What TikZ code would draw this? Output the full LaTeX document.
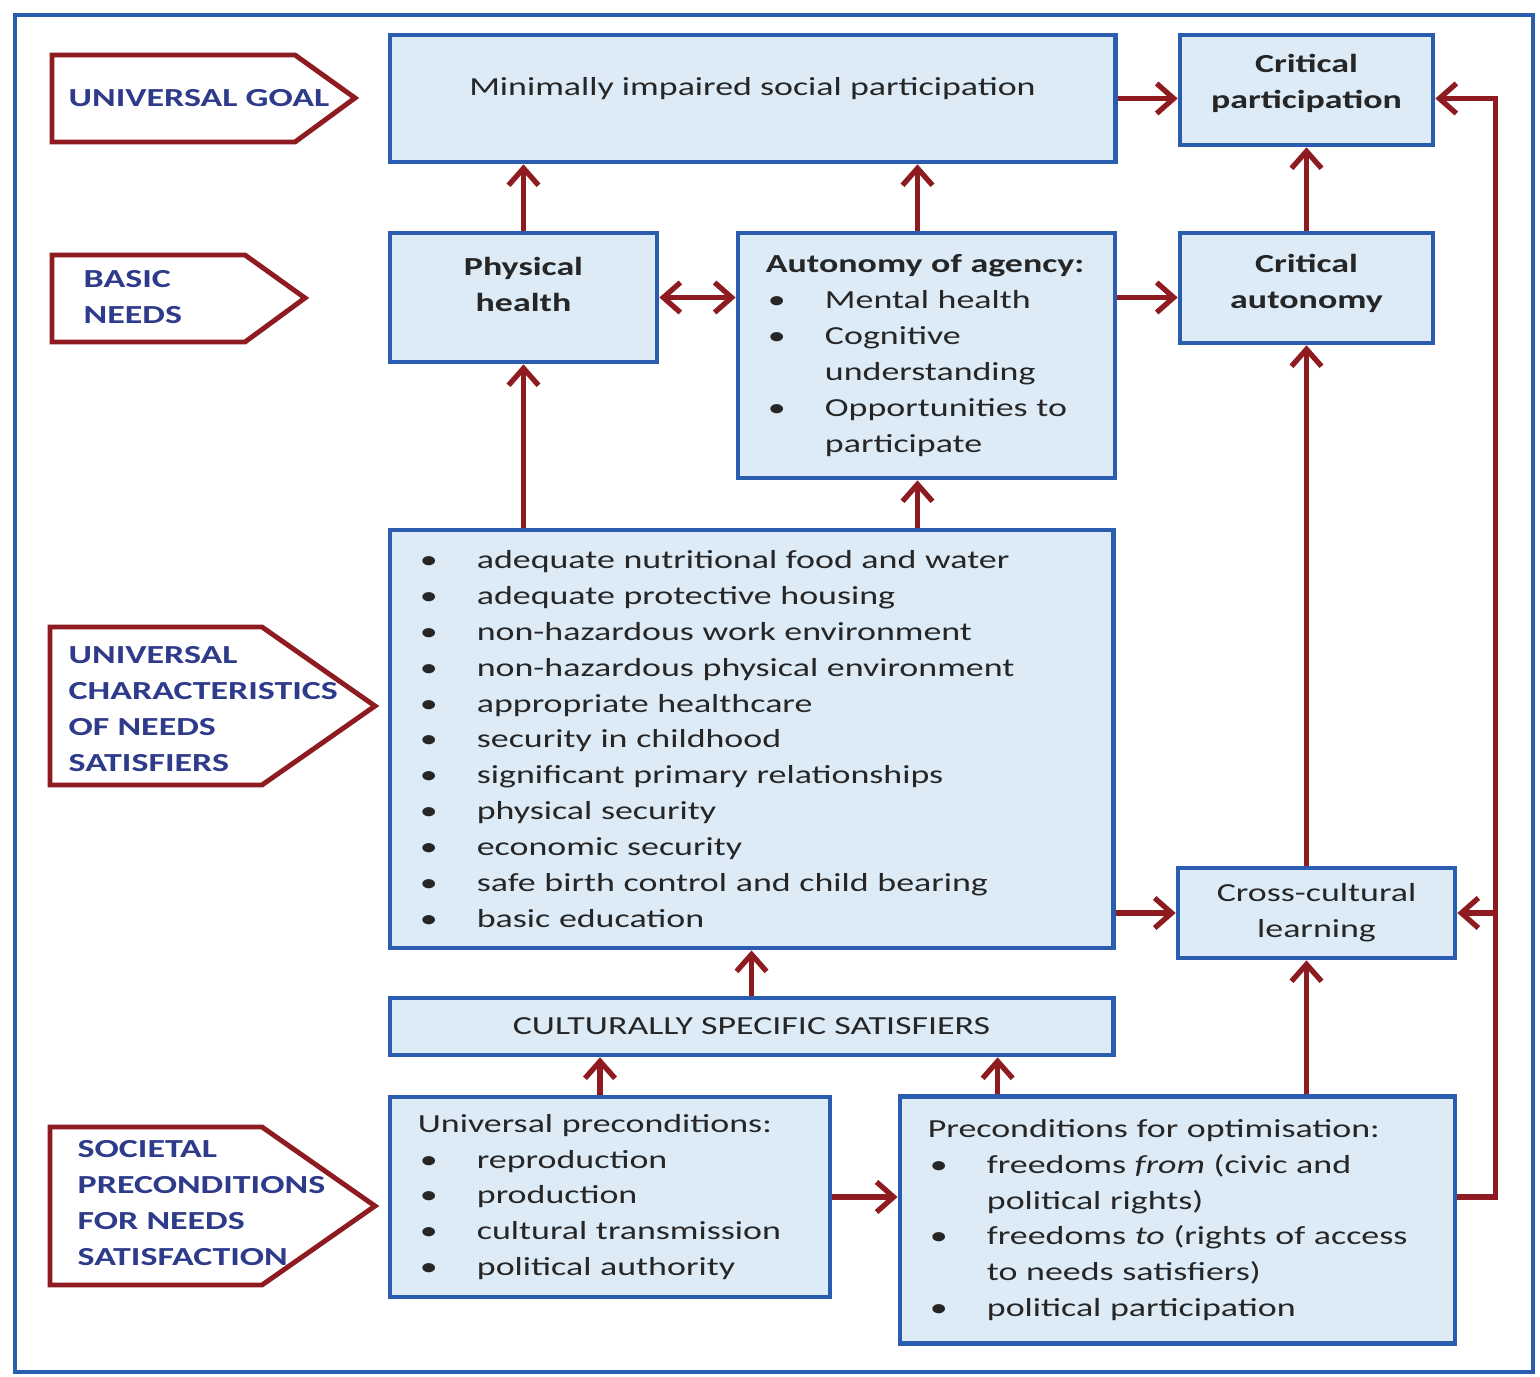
\documentclass[tikz,border=0pt]{standalone}
\usepackage{fontspec}
\setmainfont{Carlito}[FakeStretch=1.38]
\usepackage{tikz}
\usetikzlibrary{arrows.meta}
\definecolor{boxblue}{HTML}{2A5DB0}
\definecolor{boxfill}{HTML}{DDEBF7}
\definecolor{needred}{HTML}{8E1B1F}
\definecolor{tagblue}{HTML}{2E3A8A}
\newcommand{\bul}{\makebox[0.59cm][l]{\hspace{0.02cm}\textbullet}}
\newcommand{\ind}{\hspace*{0.59cm}}

\begin{document}
\begin{tikzpicture}[x=0.01cm,y=-0.01cm,
box/.style={draw=boxblue,fill=boxfill,line width=1.3pt,inner sep=0pt,
  align=center,font=\fontsize{7.4}{10.2}\selectfont,text=black!85},
bbox/.style={box,font=\fontsize{7.4}{10.2}\selectfont\bfseries},
lbox/.style={box,align=left,inner xsep=0.28cm},
tag/.style={draw=needred,line width=1.4pt,fill=white},
tagtext/.style={anchor=west,align=left,inner sep=0pt,text=tagblue,
  font=\fontsize{7.4}{10.2}\selectfont\bfseries},
barb/.tip={Straight Barb[length=1.7mm,width=3mm]},
arr/.style={needred,line width=1.5pt,-barb}
]
\useasboundingbox (0,0) rectangle (1540,1377);
\draw[boxblue,line width=1pt] (15,15) rectangle (1533,1372);

% level tags on the left
\draw[tag] (52,55) -- (295,55) -- (355,98) -- (295,142) -- (52,142) -- cycle;
\node[tagtext] (goaltag) at (68,98) {UNIVERSAL GOAL};
\draw[tag] (52,255) -- (245,255) -- (305,298) -- (245,342) -- (52,342) -- cycle;
\node[tagtext] (needtag) at (83,297) {BASIC\\NEEDS};
\draw[tag] (50,627) -- (262,627) -- (375,706) -- (262,785) -- (50,785) -- cycle;
\node[tagtext] (chartag) at (68,709) {UNIVERSAL\\CHARACTERISTICS\\OF NEEDS\\SATISFIERS};
\draw[tag] (50,1127) -- (262,1127) -- (375,1206) -- (262,1285) -- (50,1285) -- cycle;
\node[tagtext] (soctag) at (77,1203) {SOCIETAL\\PRECONDITIONS\\FOR NEEDS\\SATISFACTION};

% boxes
\node[box,minimum width=7.25cm,minimum height=1.27cm,text depth=0.25cm] (goal) at (752.5,98.5)
  {Minimally impaired social participation};
\node[bbox,minimum width=2.53cm,minimum height=1.10cm,text depth=0.18cm] (critpart) at (1306.5,90)
  {Critical\\participation};
\node[bbox,minimum width=2.67cm,minimum height=1.29cm,text depth=0.26cm] (physical) at (523.5,297.5)
  {Physical\\health};
\node[lbox,minimum width=3.77cm,minimum height=2.45cm,text width=3.21cm] (autonomy) at (926.5,355.5)
  {\textbf{Autonomy of agency:}\\
   \bul Mental health\\
   \bul Cognitive\\
   \ind understanding\\
   \bul Opportunities to\\
   \ind participate};
\node[bbox,minimum width=2.53cm,minimum height=1.10cm,text depth=0.14cm] (critauto) at (1306.5,288)
  {Critical\\autonomy};
\node[lbox,minimum width=7.23cm,minimum height=4.18cm,text width=6.67cm] (chars) at (751.5,739)
  {\bul adequate nutritional food and water\\
   \bul adequate protective housing\\
   \bul non-hazardous work environment\\
   \bul non-hazardous physical environment\\
   \bul appropriate healthcare\\
   \bul security in childhood\\
   \bul significant primary relationships\\
   \bul physical security\\
   \bul economic security\\
   \bul safe birth control and child bearing\\
   \bul basic education};
\node[box,minimum width=2.77cm,minimum height=0.90cm] (crosscult) at (1316.5,913)
  {Cross-cultural\\learning};
\node[box,minimum width=7.23cm,minimum height=0.57cm] (culture) at (751.5,1026.5)
  {CULTURALLY SPECIFIC SATISFIERS};
\node[lbox,minimum width=4.40cm,minimum height=2.00cm,text width=3.84cm] (univpre) at (610,1197)
  {Universal preconditions:\\
   \bul reproduction\\
   \bul production\\
   \bul cultural transmission\\
   \bul political authority};
\node[lbox,minimum width=5.55cm,minimum height=2.47cm,text width=4.99cm] (optim) at (1177.5,1220)
  {Preconditions for optimisation:\\
   \bul freedoms \textit{from} (civic and\\
   \ind political rights)\\
   \bul freedoms \textit{to} (rights of access\\
   \ind to needs satisfiers)\\
   \bul political participation};

% connectors
\draw[arr] (goal.east) -- (critpart.west |- goal.east);
\draw[arr] (physical) -- (physical |- goal.south);
\draw[arr] ([xshift=-0.09cm]autonomy.north) -- ([xshift=-0.09cm]autonomy.north |- goal.south);
\draw[arr,barb-barb] (physical.east) -- (physical.east -| autonomy.west);
\draw[arr] (autonomy.east |- physical) -- (critauto.west |- physical);
\foreach \a/\b in {critauto/critpart,culture/chars}
  \draw[arr] (\a) -- (\b);
\draw[arr] (chars.north -| physical) -- (physical.south);
\draw[arr] ([xshift=-0.09cm]chars.north -| autonomy) -- ([xshift=-0.09cm]autonomy.south);
\draw[arr] (chars.east |- crosscult) -- (crosscult.west);
\draw[arr] (crosscult.north -| critauto) -- (critauto.south);
\draw[arr] (optim.north -| critauto) -- (crosscult.south -| critauto);
\draw[arr] ([xshift=-0.1cm]univpre.north) -- ([xshift=-0.1cm]univpre.north |- culture.south);
\draw[arr] ([xshift=1cm]optim.north west) -- ([xshift=1cm]optim.north west |- culture.south);
\draw[arr] (univpre.east) -- (univpre.east -| optim.west);
\path (optim.east |- univpre.east) ++(38,0) coordinate (busfoot);
\draw[arr] (optim.east |- busfoot) -- (busfoot) |- (critpart.east |- goal.east);
\draw[arr] (busfoot |- crosscult.east) -- (crosscult.east);
\end{tikzpicture}
\end{document}
